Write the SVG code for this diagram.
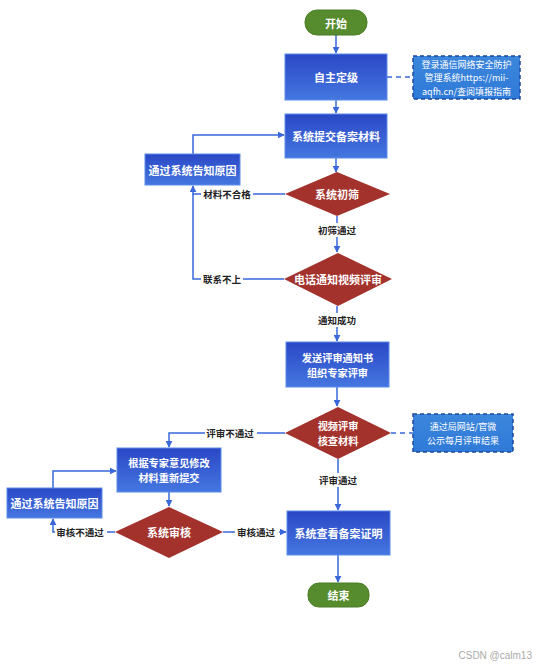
<svg xmlns="http://www.w3.org/2000/svg" width="538" height="666" viewBox="0 0 538 666">
<defs>
<linearGradient id="gb" x1="0" y1="0" x2="0" y2="1">
<stop offset="0" stop-color="#2a47c6"/>
<stop offset="1" stop-color="#4577e0"/>
</linearGradient>
<linearGradient id="gn" x1="0" y1="0" x2="0" y2="1">
<stop offset="0" stop-color="#3c86dc"/>
<stop offset="1" stop-color="#2f7ad8"/>
</linearGradient>
<marker id="ah" viewBox="0 0 10 10" refX="9" refY="5" markerWidth="7" markerHeight="7" orient="auto" markerUnits="userSpaceOnUse">
<path d="M0,0 L10,5 L0,10 z" fill="#3a68dc"/>
</marker>
</defs>
<style>
.box{fill:url(#gb);stroke:#5d8ce8;stroke-width:1}
.dia{fill:#a3322c;stroke:none}
.term{fill:#568c2e;stroke:#4a7d26;stroke-width:1}
.note{fill:url(#gn);stroke:#1d4aa0;stroke-width:1.5;stroke-dasharray:4 3}
.wt{font-family:"Noto Sans CJK SC","Noto Sans",sans-serif;font-size:11px;font-weight:bold;fill:#ffffff;text-anchor:middle;dominant-baseline:central}
.w2{font-family:"Noto Sans CJK SC","Noto Sans",sans-serif;font-size:10.2px;font-weight:bold;fill:#ffffff;text-anchor:middle;dominant-baseline:central}
.nt{font-family:"Noto Sans CJK SC","Noto Sans",sans-serif;font-size:9px;fill:#ffffff;text-anchor:middle;dominant-baseline:central}
.lb{font-family:"Noto Sans CJK SC","Noto Sans",sans-serif;font-size:9.5px;font-weight:bold;fill:#222222;text-anchor:middle;dominant-baseline:central}
.ln{fill:none;stroke:#3a68dc;stroke-width:1.5}
.dl{fill:none;stroke:#3a68dc;stroke-width:1.5;stroke-dasharray:5 4}
.bg{fill:#ffffff}
</style>
<rect width="538" height="666" fill="#ffffff"/>
<g id="connectors">
<path class="ln" d="M336,35 L336,53" marker-end="url(#ah)"/>
<path class="dl" d="M387,77 L413,77"/>
<path class="ln" d="M336,100 L336,113" marker-end="url(#ah)"/>
<path class="ln" d="M336,158 L336,172" marker-end="url(#ah)"/>
<path class="ln" d="M285,194 L193,194 L193,186" marker-end="url(#ah)"/>
<path class="ln" d="M193,154 L193,135 L284,135" marker-end="url(#ah)"/>
<path class="ln" d="M337,216 L337,252" marker-end="url(#ah)"/>
<path class="ln" d="M284,279 L193,279 L193,194"/>
<path class="ln" d="M337,306 L337,341" marker-end="url(#ah)"/>
<path class="ln" d="M337,387 L337,406" marker-end="url(#ah)"/>
<path class="dl" d="M391,433 L413,433"/>
<path class="ln" d="M285,433 L169,433 L169,447" marker-end="url(#ah)"/>
<path class="ln" d="M338,459 L338,510" marker-end="url(#ah)"/>
<path class="ln" d="M169,492 L169,506" marker-end="url(#ah)"/>
<path class="ln" d="M115,532 L53,532 L53,519" marker-end="url(#ah)"/>
<path class="ln" d="M53,488 L53,471 L116,471" marker-end="url(#ah)"/>
<path class="ln" d="M223,532 L286,532" marker-end="url(#ah)"/>
<path class="ln" d="M338,555 L338,582" marker-end="url(#ah)"/>
<rect class="bg" x="201" y="187" width="52" height="14"/>
<text class="lb" x="227" y="194">材料不合格</text>
<rect class="bg" x="201" y="272" width="42" height="14"/>
<text class="lb" x="222" y="279">联系不上</text>
<rect class="bg" x="315" y="223" width="44" height="14"/>
<text class="lb" x="337" y="230">初筛通过</text>
<rect class="bg" x="315" y="313" width="44" height="14"/>
<text class="lb" x="337" y="320">通知成功</text>
<rect class="bg" x="205" y="426" width="52" height="14"/>
<text class="lb" x="230" y="433">评审不通过</text>
<rect class="bg" x="316" y="473" width="44" height="14"/>
<text class="lb" x="338" y="480">评审通过</text>
<rect class="bg" x="55" y="525" width="52" height="14"/>
<text class="lb" x="80" y="532">审核不通过</text>
<rect class="bg" x="235" y="525" width="44" height="14"/>
<text class="lb" x="256" y="532">审核通过</text>
</g>
<g id="start">
<rect class="term" x="305" y="10" width="62" height="25" rx="12"/>
<text class="wt" x="336" y="22.5">开始</text>
</g>
<g id="define">
<rect class="box" x="285" y="54" width="102" height="46"/>
<text class="wt" x="336" y="77">自主定级</text>
</g>
<g id="note1">
<rect class="note" x="413" y="56" width="107" height="43"/>
<text class="nt" x="466.5" y="64">登录通信网络安全防护</text>
<text class="nt" x="466.5" y="77.5">管理系统https://mii-</text>
<text class="nt" x="466.5" y="91">aqfh.cn/查阅填报指南</text>
</g>
<g id="submit">
<rect class="box" x="285" y="114" width="102" height="44"/>
<text class="wt" x="336" y="136">系统提交备案材料</text>
</g>
<g id="reason1">
<rect class="box" x="145" y="154" width="95" height="31"/>
<text class="wt" x="192.5" y="169.5">通过系统告知原因</text>
</g>
<g id="screen">
<polygon class="dia" points="337,172 390,194 337,216 285,194"/>
<text class="wt" x="337" y="194">系统初筛</text>
</g>
<g id="phone">
<polygon class="dia" points="338,253 392,279 338,306 284,279"/>
<text class="wt" x="338" y="279">电话通知视频评审</text>
</g>
<g id="notice">
<rect class="box" x="286" y="342" width="103" height="45"/>
<text class="w2" x="337.5" y="357">发送评审通知书</text>
<text class="w2" x="337.5" y="372">组织专家评审</text>
</g>
<g id="review">
<polygon class="dia" points="338,407 391,433 338,459 285,433"/>
<text class="w2" x="338" y="425.5">视频评审</text>
<text class="w2" x="338" y="440.5">核查材料</text>
</g>
<g id="note2">
<rect class="note" x="413" y="414" width="100" height="38"/>
<text class="nt" x="463" y="426">通过局网站/官微</text>
<text class="nt" x="463" y="440">公示每月评审结果</text>
</g>
<g id="revise">
<rect class="box" x="117" y="448" width="104" height="44"/>
<text class="w2" x="169" y="462.5">根据专家意见修改</text>
<text class="w2" x="169" y="477.5">材料重新提交</text>
</g>
<g id="reason2">
<rect class="box" x="7" y="488" width="95" height="30"/>
<text class="wt" x="54.5" y="503">通过系统告知原因</text>
</g>
<g id="audit">
<polygon class="dia" points="169,507 223,532 169,558 115,532"/>
<text class="wt" x="169" y="532">系统审核</text>
</g>
<g id="cert">
<rect class="box" x="287" y="511" width="103" height="44"/>
<text class="wt" x="338.5" y="533">系统查看备案证明</text>
</g>
<g id="end">
<rect class="term" x="308" y="583" width="61" height="24" rx="11"/>
<text class="wt" x="338.5" y="595">结束</text>
</g>
<text x="532" y="655" font-family="'Liberation Sans',sans-serif" font-size="10" fill="#aaaaaa" text-anchor="end" dominant-baseline="central">CSDN @calm13</text>
</svg>
